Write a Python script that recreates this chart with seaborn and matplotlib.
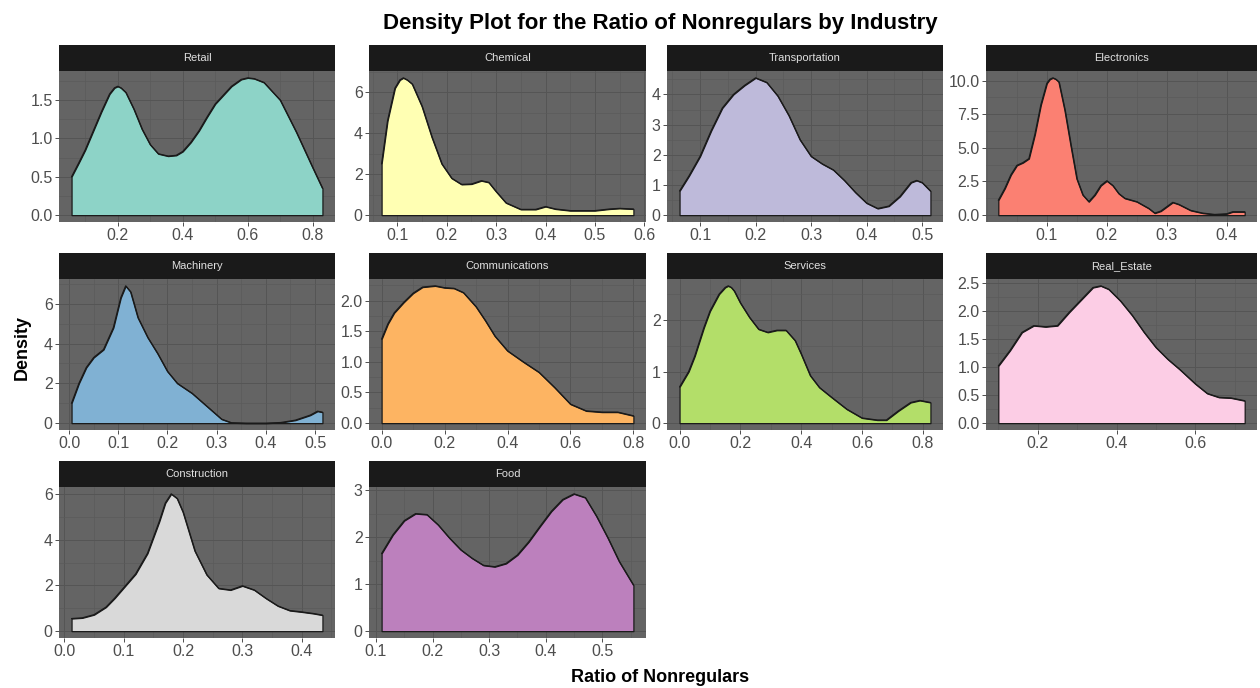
import pandas as pd
import seaborn as sns
import matplotlib.pyplot as plt
from matplotlib.patches import Rectangle
from matplotlib.ticker import AutoMinorLocator

# industries in facet order
industries = ['Retail', 'Chemical', 'Transportation', 'Electronics',
              'Machinery', 'Communications', 'Services', 'Real_Estate',
              'Construction', 'Food']

# density curves (ratio, density)
retail_x = [0.058, 0.08, 0.1, 0.125, 0.15, 0.175, 0.19, 0.2, 0.21, 0.225, 0.25, 0.275, 0.3, 0.325,
            0.355, 0.38, 0.4, 0.425, 0.45, 0.475, 0.5, 0.55, 0.58, 0.6, 0.62, 0.65, 0.7, 0.75, 0.8, 0.83]
retail_y = [0.5, 0.68, 0.85, 1.1, 1.35, 1.58, 1.66, 1.68, 1.66, 1.6, 1.38, 1.12, 0.92, 0.8,
            0.77, 0.78, 0.83, 0.95, 1.1, 1.28, 1.45, 1.68, 1.77, 1.79, 1.78, 1.73, 1.5, 1.08, 0.62, 0.35]

chemical_x = [0.068, 0.08, 0.095, 0.105, 0.112, 0.12, 0.13, 0.15, 0.17, 0.19, 0.21, 0.23, 0.25, 0.27,
              0.285, 0.3, 0.32, 0.35, 0.38, 0.4, 0.42, 0.45, 0.5, 0.53, 0.55, 0.578]
chemical_y = [2.5, 4.6, 6.2, 6.6, 6.7, 6.6, 6.4, 5.3, 3.8, 2.5, 1.8, 1.5, 1.52, 1.68,
              1.6, 1.15, 0.6, 0.28, 0.28, 0.42, 0.3, 0.22, 0.22, 0.3, 0.33, 0.3]

transport_x = [0.063, 0.08, 0.1, 0.12, 0.14, 0.16, 0.18, 0.2, 0.22, 0.24, 0.26, 0.28, 0.3,
               0.32, 0.34, 0.36, 0.38, 0.4, 0.42, 0.44, 0.46, 0.48, 0.49, 0.5, 0.515]
transport_y = [0.8, 1.3, 1.95, 2.8, 3.55, 4.0, 4.3, 4.55, 4.4, 3.95, 3.3, 2.5, 1.95,
               1.7, 1.5, 1.15, 0.75, 0.4, 0.22, 0.3, 0.62, 1.08, 1.15, 1.08, 0.8]

electronics_x = [0.019, 0.03, 0.04, 0.05, 0.06, 0.07, 0.08, 0.09, 0.1, 0.105, 0.11, 0.115, 0.12, 0.13,
                 0.14, 0.15, 0.16, 0.17, 0.18, 0.19, 0.2, 0.21, 0.22, 0.23, 0.25, 0.27,
                 0.28, 0.29, 0.31, 0.32, 0.34, 0.36, 0.38, 0.4, 0.41, 0.43]
electronics_y = [1.1, 2.0, 3.0, 3.7, 3.9, 4.2, 6.0, 8.2, 9.8, 10.1, 10.2, 10.1, 9.9, 7.8,
                 5.2, 2.7, 1.5, 1.0, 1.5, 2.2, 2.55, 2.2, 1.6, 1.25, 1.0, 0.5,
                 0.15, 0.3, 0.95, 0.8, 0.35, 0.15, 0.05, 0.1, 0.25, 0.25]

machinery_x = [0.005, 0.02, 0.035, 0.05, 0.07, 0.09, 0.105, 0.115, 0.125, 0.14, 0.16, 0.18,
               0.2, 0.22, 0.25, 0.28, 0.31, 0.33, 0.36, 0.4, 0.43, 0.46, 0.49, 0.505, 0.515]
machinery_y = [1.0, 2.0, 2.8, 3.3, 3.7, 4.8, 6.3, 6.9, 6.6, 5.3, 4.3, 3.5,
               2.6, 2.0, 1.5, 0.85, 0.2, 0.02, 0.0, 0.0, 0.03, 0.15, 0.4, 0.6, 0.55]

comm_x = [0.0, 0.02, 0.04, 0.07, 0.1, 0.13, 0.17, 0.2, 0.23, 0.26, 0.3, 0.33, 0.36, 0.4,
          0.45, 0.5, 0.55, 0.6, 0.65, 0.7, 0.75, 0.8]
comm_y = [1.37, 1.62, 1.8, 1.97, 2.12, 2.22, 2.24, 2.21, 2.2, 2.13, 1.9, 1.67, 1.42, 1.18,
          1.0, 0.83, 0.58, 0.31, 0.2, 0.18, 0.18, 0.12]

services_x = [0.0, 0.03, 0.05, 0.08, 0.1, 0.13, 0.15, 0.16, 0.17, 0.18, 0.2, 0.23, 0.26, 0.29, 0.32, 0.35,
              0.38, 0.4, 0.43, 0.46, 0.5, 0.55, 0.6, 0.65, 0.68, 0.72, 0.76, 0.79, 0.825]
services_y = [0.7, 1.0, 1.3, 1.85, 2.17, 2.5, 2.63, 2.66, 2.63, 2.56, 2.33, 2.05, 1.82, 1.76, 1.8, 1.8,
              1.6, 1.34, 0.92, 0.69, 0.5, 0.27, 0.1, 0.06, 0.06, 0.24, 0.4, 0.44, 0.4]

realestate_x = [0.1, 0.13, 0.16, 0.19, 0.22, 0.25, 0.28, 0.31, 0.34, 0.36, 0.38, 0.41, 0.44,
                0.47, 0.5, 0.53, 0.56, 0.6, 0.63, 0.66, 0.69, 0.725]
realestate_y = [1.02, 1.3, 1.62, 1.74, 1.72, 1.74, 1.98, 2.2, 2.42, 2.45, 2.39, 2.18, 1.92,
                1.62, 1.35, 1.14, 0.96, 0.7, 0.53, 0.46, 0.45, 0.4]

construction_x = [0.012, 0.03, 0.05, 0.07, 0.085, 0.1, 0.12, 0.14, 0.16, 0.17, 0.18, 0.19, 0.2,
                  0.22, 0.24, 0.26, 0.28, 0.3, 0.32, 0.34, 0.36, 0.38, 0.4, 0.42, 0.435]
construction_y = [0.55, 0.58, 0.72, 1.05, 1.45, 1.9, 2.5, 3.4, 4.8, 5.6, 6.0, 5.8, 5.2,
                  3.5, 2.46, 1.87, 1.8, 1.98, 1.8, 1.43, 1.1, 0.9, 0.84, 0.77, 0.7]

food_x = [0.11, 0.13, 0.15, 0.17, 0.19, 0.21, 0.23, 0.25, 0.27, 0.29, 0.31, 0.33, 0.35,
          0.37, 0.39, 0.41, 0.43, 0.45, 0.47, 0.49, 0.51, 0.53, 0.555]
food_y = [1.65, 2.05, 2.35, 2.5, 2.48, 2.26, 1.98, 1.73, 1.55, 1.4, 1.37, 1.44, 1.62,
          1.9, 2.23, 2.55, 2.8, 2.92, 2.84, 2.44, 1.98, 1.48, 0.98]

curves = {
    'Retail': (retail_x, retail_y),
    'Chemical': (chemical_x, chemical_y),
    'Transportation': (transport_x, transport_y),
    'Electronics': (electronics_x, electronics_y),
    'Machinery': (machinery_x, machinery_y),
    'Communications': (comm_x, comm_y),
    'Services': (services_x, services_y),
    'Real_Estate': (realestate_x, realestate_y),
    'Construction': (construction_x, construction_y),
    'Food': (food_x, food_y),
}

# tick breaks per facet
x_ticks = {
    'Retail': [0.2, 0.4, 0.6, 0.8],
    'Chemical': [0.1, 0.2, 0.3, 0.4, 0.5, 0.6],
    'Transportation': [0.1, 0.2, 0.3, 0.4, 0.5],
    'Electronics': [0.1, 0.2, 0.3, 0.4],
    'Machinery': [0.0, 0.1, 0.2, 0.3, 0.4, 0.5],
    'Communications': [0.0, 0.2, 0.4, 0.6, 0.8],
    'Services': [0.0, 0.2, 0.4, 0.6, 0.8],
    'Real_Estate': [0.2, 0.4, 0.6],
    'Construction': [0.0, 0.1, 0.2, 0.3, 0.4],
    'Food': [0.1, 0.2, 0.3, 0.4, 0.5],
}
y_ticks = {
    'Retail': [0.0, 0.5, 1.0, 1.5],
    'Chemical': [0, 2, 4, 6],
    'Transportation': [0, 1, 2, 3, 4],
    'Electronics': [0.0, 2.5, 5.0, 7.5, 10.0],
    'Machinery': [0, 2, 4, 6],
    'Communications': [0.0, 0.5, 1.0, 1.5, 2.0],
    'Services': [0, 1, 2],
    'Real_Estate': [0.0, 0.5, 1.0, 1.5, 2.0, 2.5],
    'Construction': [0, 2, 4, 6],
    'Food': [0, 1, 2, 3],
}

rows = []
for ind in industries:
    xs, ys = curves[ind]
    for xv, yv in zip(xs, ys):
        rows.append({'industry': ind, 'ratio': xv, 'density': yv})
df = pd.DataFrame(rows)

fills = dict(zip(industries, sns.color_palette('Set3', 10)))

sns.set_theme(style='dark')
plt.rcParams['font.family'] = ['Liberation Sans Narrow', 'Liberation Sans', 'DejaVu Sans']

g = sns.FacetGrid(df, col='industry', col_wrap=4, col_order=industries,
                  sharex=False, sharey=False, height=2, aspect=1.5)
g.figure.set_size_inches(12.6, 6.88)


def draw_density(data, color=None, **kws):
    ax = plt.gca()
    ind = data['industry'].iloc[0]
    ax.fill_between(data['ratio'], 0, data['density'], facecolor=fills[ind],
                    edgecolor='#1a1a1a', lw=0.9, zorder=2)


g.map_dataframe(draw_density)
g.map_dataframe(sns.lineplot, x='ratio', y='density', color='#1a1a1a', lw=0.9, zorder=4)
g.set_titles('')
g.set_axis_labels('', '')

W, H = 1260.0, 688.0
col_left = [59, 369, 667, 986]
col_width = [276, 277, 276, 271]
row_top = [71, 279, 487]
panel_h = 151
strip_h = 26

for i, ind in enumerate(industries):
    ax = g.axes.flat[i]
    r, c = divmod(i, 4)
    ax.set_position([col_left[c] / W, 1 - (row_top[r] + panel_h) / H,
                     col_width[c] / W, panel_h / H])
    xs, ys = curves[ind]
    xr = max(xs) - min(xs)
    ax.set_xlim(min(xs) - 0.05 * xr, max(xs) + 0.05 * xr)
    ax.set_ylim(-0.05 * max(ys), 1.05 * max(ys))
    ax.set_facecolor('#646464')
    for s in ax.spines.values():
        s.set_visible(False)
    ax.set_xticks(x_ticks[ind])
    ax.set_xticklabels(['%.1f' % v for v in x_ticks[ind]])
    yt = y_ticks[ind]
    ydec = 0 if all(float(v).is_integer() for v in yt) else 1
    ax.set_yticks(yt)
    ax.set_yticklabels([('%.' + str(ydec) + 'f') % v for v in yt])
    ax.xaxis.set_minor_locator(AutoMinorLocator(2))
    ax.yaxis.set_minor_locator(AutoMinorLocator(2))
    ax.grid(True, which='major', color='#555555', lw=0.7)
    ax.grid(True, which='minor', color='#5a5a5a', lw=0.45)
    ax.set_axisbelow(True)
    ax.tick_params(which='major', bottom=True, left=True, length=3, width=0.7,
                   color='#4d4d4d', labelcolor='#4d4d4d', labelsize=11.5, pad=1.5)
    ax.tick_params(which='minor', bottom=False, left=False)
    sh = strip_h / panel_h
    ax.add_patch(Rectangle((0, 1), 1, sh, transform=ax.transAxes, clip_on=False,
                           facecolor='#1a1a1a', edgecolor='none', zorder=5))
    ax.text(0.5, 1 + sh / 2, ind, transform=ax.transAxes, ha='center', va='center',
            fontsize=8, color='#e0e0e0', zorder=6)

fig = g.figure
fig.patch.set_facecolor('white')
fig.text(660 / W, 1 - 23 / H, 'Density Plot for the Ratio of Nonregulars by Industry',
         ha='center', va='center', fontsize=16, fontweight='bold', color='black',
         family=['Liberation Sans', 'DejaVu Sans'])
fig.text(660 / W, 1 - 677 / H, 'Ratio of Nonregulars', ha='center', va='center',
         fontsize=13, fontweight='bold', color='black', family=['Liberation Sans', 'DejaVu Sans'])
fig.text(22 / W, 1 - 347 / H, 'Density', ha='center', va='center', rotation=90,
         fontsize=13, fontweight='bold', color='black', family=['Liberation Sans', 'DejaVu Sans'])

fig.savefig('out.png', dpi=100)
